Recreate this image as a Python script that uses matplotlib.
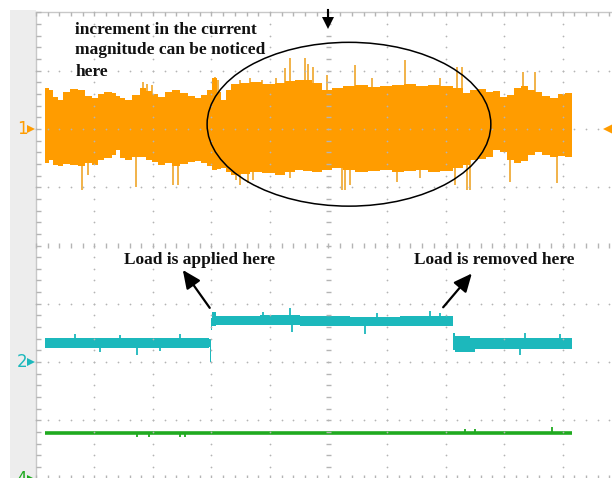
import numpy as np
import matplotlib
matplotlib.use('Agg')
import matplotlib.pyplot as plt
from matplotlib.patches import Ellipse, Rectangle

# DATA (screen divisions: time 0..10, amplitude relative to channel ground) ====
ch1_t = [0.15, 0.22, 0.29, 0.38, 0.46, 0.58, 0.72, 0.84, 0.96, 1.06,
         1.16, 1.30, 1.37, 1.44, 1.52, 1.64, 1.78, 1.88, 1.98, 2.09,
         2.21, 2.32, 2.46, 2.60, 2.72, 2.82, 2.92, 3.01, 3.09, 3.16,
         3.25, 3.33, 3.49, 3.66, 3.86, 4.09, 4.26, 4.43, 4.56, 4.72,
         4.89, 5.06, 5.25, 5.45, 5.68, 5.88, 6.09, 6.29, 6.50, 6.70,
         6.91, 7.13, 7.30, 7.42, 7.56, 7.69, 7.81, 7.93, 8.05, 8.17,
         8.29, 8.41, 8.53, 8.65, 8.79, 8.92, 9.04, 9.16]
ch1_hi = [0.70, 0.67, 0.55, 0.50, 0.63, 0.68, 0.67, 0.56, 0.53, 0.60,
          0.63, 0.62, 0.56, 0.53, 0.50, 0.58, 0.70, 0.65, 0.60, 0.55,
          0.63, 0.67, 0.62, 0.56, 0.53, 0.58, 0.67, 0.87, 0.63, 0.50,
          0.67, 0.77, 0.79, 0.80, 0.77, 0.79, 0.82, 0.84, 0.84, 0.79,
          0.67, 0.70, 0.74, 0.75, 0.72, 0.74, 0.75, 0.77, 0.74, 0.75,
          0.74, 0.70, 0.62, 0.67, 0.68, 0.63, 0.65, 0.55, 0.58, 0.70,
          0.74, 0.67, 0.63, 0.56, 0.53, 0.60, 0.62, 0.62]
ch1_lo = [-0.58, -0.53, -0.62, -0.64, -0.60, -0.62, -0.64, -0.58, -0.62, -0.53,
          -0.50, -0.45, -0.36, -0.50, -0.53, -0.48, -0.48, -0.53, -0.57, -0.62,
          -0.58, -0.64, -0.60, -0.57, -0.55, -0.58, -0.64, -0.70, -0.69, -0.67,
          -0.74, -0.79, -0.77, -0.74, -0.76, -0.79, -0.74, -0.70, -0.72, -0.74,
          -0.70, -0.67, -0.70, -0.74, -0.72, -0.70, -0.74, -0.72, -0.70, -0.74,
          -0.72, -0.67, -0.62, -0.53, -0.52, -0.48, -0.36, -0.40, -0.53, -0.58,
          -0.55, -0.45, -0.40, -0.45, -0.48, -0.47, -0.48, -0.48]
ch1_spike_up_t = [1.83, 1.90, 1.98, 3.06, 3.11, 3.49, 3.66, 3.86, 4.10, 4.26, 4.34,
                  4.60, 4.65, 4.74, 4.97, 5.45, 5.74, 6.31, 6.91, 7.20, 7.28, 8.32, 8.53]
ch1_spike_up_v = [0.80, 0.77, 0.75, 0.89, 0.84, 0.84, 0.87, 0.84, 0.87, 1.04, 1.21,
                  1.21, 1.11, 1.06, 0.92, 1.10, 0.87, 1.18, 0.87, 1.06, 1.06, 0.98, 0.98]
ch1_spike_dn_t = [0.79, 0.89, 1.71, 2.34, 2.43, 3.42, 3.49, 3.62, 3.71, 4.34, 5.23,
                  5.28, 5.37, 6.17, 6.56, 7.16, 7.37, 7.42, 8.10, 8.91]
ch1_spike_dn_v = [-1.05, -0.79, -1.00, -0.96, -0.96, -0.88, -0.96, -0.93, -0.88,
                  -0.84, -1.05, -1.05, -0.96, -0.91, -0.84, -0.96, -1.05, -1.05,
                  -0.91, -0.93]

ch2_t = [0.15, 2.96, 2.97, 2.99, 3.01, 3.08, 3.83, 4.51, 5.37, 6.22, 7.11, 7.13,
         7.16, 7.42, 7.50, 9.16]
ch2_hi = [0.41, 0.40, 0.40, 0.76, 0.86, 0.79, 0.81, 0.79, 0.77, 0.79, 0.79, 0.50,
          0.45, 0.41, 0.41, 0.41]
ch2_lo = [0.24, 0.26, 0.00, 0.55, 0.62, 0.64, 0.64, 0.62, 0.62, 0.62, 0.62, 0.21,
          0.17, 0.17, 0.22, 0.22]
ch2_spike_up_t = [0.67, 1.44, 2.46, 3.88, 4.34, 5.83, 6.74, 6.91, 8.36, 8.96]
ch2_spike_up_v = [0.48, 0.46, 0.48, 0.86, 0.93, 0.84, 0.88, 0.84, 0.50, 0.48]
ch2_spike_dn_t = [1.09, 1.73, 2.12, 4.38, 5.62, 8.27]
ch2_spike_dn_v = [0.17, 0.12, 0.19, 0.52, 0.48, 0.12]

ch4_t = [0.15, 9.16]
ch4_v = [0.78, 0.78]
ch4_spike_t = [1.73, 1.94, 2.46, 2.55, 7.33, 7.50, 8.82]
ch4_spike_v = [0.71, 0.71, 0.71, 0.71, 0.85, 0.85, 0.89]

ch_ground = {'1': 2.0, '2': -2.0, '4': -4.0}
ch_color = {'1': '#ff9c00', '2': '#1cb8bc', '4': '#20aa20'}

note_top = ['increment in the current', 'magnitude can be noticed', 'here']
note_on = 'Load is applied here'
note_off = 'Load is removed here'


def band_mid(t_list, hi, lo, t):
    # middle of a step-drawn band at time t
    idx = np.clip(np.searchsorted(t_list, t, side='right') - 1, 0, len(hi) - 1)
    return (np.array(hi)[idx] + np.array(lo)[idx]) / 2


# FIGURE =======================================================================
fig = plt.figure(figsize=(6.12, 4.78), dpi=100)
ax = fig.add_axes([0, 0, 1, 1])
ax.set_xlim(-0.615, 9.846)
ax.set_ylim(-3.988, 4.211)
ax.axis('off')

# left gray strip and borders
ax.add_patch(Rectangle((-0.444, -4.2), 0.444, 8.24, color='#ededed', zorder=0, lw=0))
ax.plot([0, 0], [-4.2, 4.0], color='#c8c8c8', lw=1, zorder=1)
ax.plot([0, 10.2], [4.0, 4.0], color='#c8c8c8', lw=1, zorder=1)

# grid dots
minor = np.arange(0, 10.01, 0.2)
minor_v = np.arange(-4, 4.01, 0.2)
for i in range(1, 11):
    if i == 5:
        continue
    ax.scatter(np.full(len(minor_v), i), minor_v, s=1.6, color='#b4b4b4', lw=0, zorder=4)
for j in range(-4, 5):
    if j in (0, 4):
        continue
    ax.scatter(minor, np.full(len(minor), j), s=1.6, color='#b4b4b4', lw=0, zorder=4)

# centre cross and border ticks
ax.vlines(minor, -0.04, 0.04, color='#b4b4b4', lw=1, zorder=4)
ax.hlines(minor_v, 4.95, 5.05, color='#b4b4b4', lw=1, zorder=4)
ax.vlines(minor, 3.93, 4.0, color='#b4b4b4', lw=1, zorder=4)
ax.hlines(minor_v, 0.0, 0.08, color='#b4b4b4', lw=1, zorder=4)
ax.vlines(minor, -4.0, -3.93, color='#b4b4b4', lw=1, zorder=4)

# channel 1
g1 = ch_ground['1']
ax.vlines(ch1_spike_up_t, g1, np.array(ch1_spike_up_v) + g1, color='#f0ac3a', lw=1.3, zorder=1.5)
ax.vlines(ch1_spike_dn_t, g1, np.array(ch1_spike_dn_v) + g1, color='#f0ac3a', lw=1.3, zorder=1.5)
ax.fill_between(ch1_t, np.array(ch1_hi) + g1, np.array(ch1_lo) + g1, step='post',
                color=ch_color['1'], lw=0, zorder=2)

# channel 2
g2 = ch_ground['2']
base_up = band_mid(ch2_t, ch2_hi, ch2_lo, ch2_spike_up_t) + g2
base_dn = band_mid(ch2_t, ch2_hi, ch2_lo, ch2_spike_dn_t) + g2
ax.vlines(ch2_spike_up_t, base_up, np.array(ch2_spike_up_v) + g2, color=ch_color['2'], lw=1.3, zorder=2)
ax.vlines(ch2_spike_dn_t, base_dn, np.array(ch2_spike_dn_v) + g2, color=ch_color['2'], lw=1.3, zorder=2)
ax.fill_between(ch2_t, np.array(ch2_hi) + g2, np.array(ch2_lo) + g2, step='post',
                color=ch_color['2'], lw=0, zorder=2)

# channel 4
g4 = ch_ground['4']
ax.plot(ch4_t, np.array(ch4_v) + g4, color=ch_color['4'], lw=2.6, solid_capstyle='butt', zorder=2)
ax.vlines(ch4_spike_t, g4 + 0.78, np.array(ch4_spike_v) + g4, color=ch_color['4'], lw=1.3, zorder=2)

# channel ground markers
for ch, g in ch_ground.items():
    ax.text(-0.24, g, ch, color=ch_color[ch], fontsize=12, ha='center', va='center',
            fontfamily='DejaVu Sans', zorder=5)
    ax.plot(-0.09, g, marker='>', ms=6, color=ch_color[ch], mew=0, zorder=5)
ax.plot(9.79, g1, marker='<', ms=8, color=ch_color['1'], mew=0, zorder=5)

# trigger position marker
ax.plot([5.0, 5.0], [4.04, 3.87], color='black', lw=1.5, zorder=5)
ax.plot(5.0, 3.82, marker='v', ms=8, color='black', mew=0, zorder=5)

# annotations
ax.add_patch(Ellipse((5.35, 2.08), 4.85, 2.81, fill=False, ec='black', lw=1.1, zorder=6))
txt = dict(fontfamily='Liberation Serif', fontweight='bold', fontsize=12.5,
           color='#111111', zorder=7)
for line, v in zip(note_top, [3.70, 3.35, 2.98]):
    ax.text(0.67, v, line, ha='left', va='center', **txt)
ax.text(2.79, -0.25, note_on, ha='center', va='center', **txt)
ax.text(7.83, -0.25, note_off, ha='center', va='center', **txt)
arrow = dict(arrowstyle='-|>,head_length=0.55,head_width=0.25', color='black',
             lw=1.6, mutation_scale=20, shrinkA=0, shrinkB=0)
ax.annotate('', xy=(2.51, -0.42), xytext=(2.97, -1.07), arrowprops=arrow, zorder=7)
ax.annotate('', xy=(7.45, -0.48), xytext=(6.96, -1.06), arrowprops=arrow, zorder=7)

fig.savefig('out.png', dpi=100)
